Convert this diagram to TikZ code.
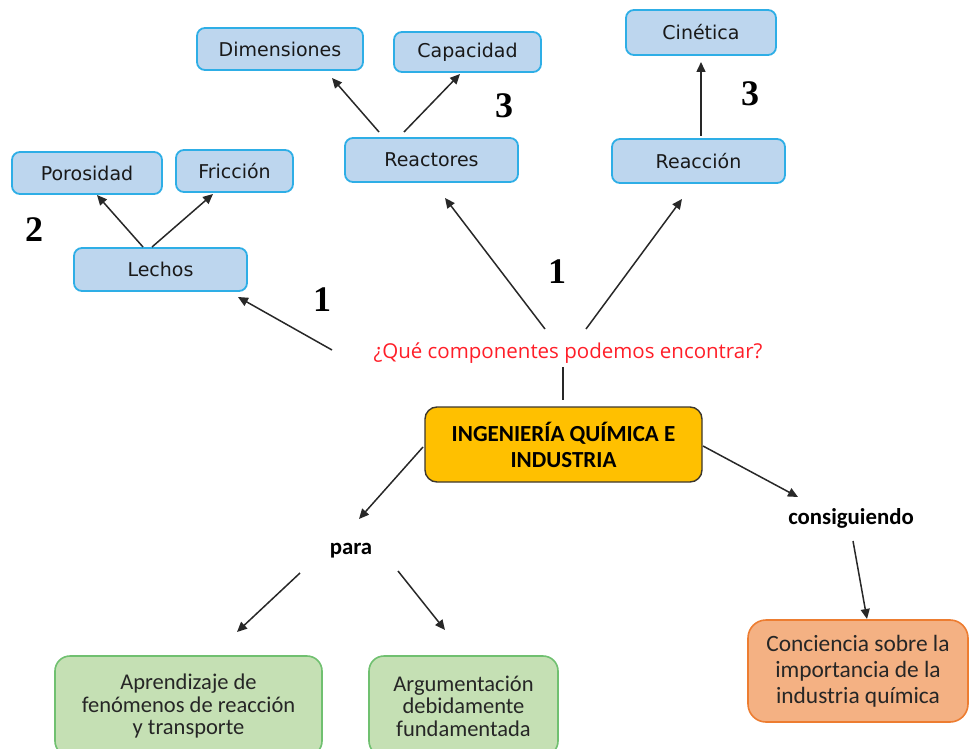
\documentclass[tikz,border=0pt]{standalone}
\usepackage{fontspec}
\setmainfont{Carlito}
\newfontfamily\boxfont{DejaVu Sans}
\newfontfamily\calfont{Carlito}
\newfontfamily\qfont{Open Sans}
\newfontfamily\numfont{Liberation Serif}
\usetikzlibrary{arrows.meta}
\definecolor{bluefill}{RGB}{189,214,238}
\definecolor{blueline}{RGB}{46,174,230}
\definecolor{mainfill}{RGB}{255,192,0}
\definecolor{mainline}{RGB}{60,55,45}
\definecolor{greenfill}{RGB}{197,224,180}
\definecolor{greenline}{RGB}{112,192,112}
\definecolor{orangefill}{RGB}{244,177,131}
\definecolor{orangeline}{RGB}{237,125,49}
\definecolor{arrowgray}{RGB}{40,40,40}
\definecolor{qred}{RGB}{255,30,40}
\tikzset{
  bluebox/.style={draw=blueline, line width=1.8pt, fill=bluefill, rounded corners=8pt,
    inner sep=0pt, text=black!90, font=\boxfont\fontsize{19}{22}\selectfont},
  mainbox/.style={draw=mainline, line width=1.4pt, fill=mainfill, rounded corners=12pt,
    inner sep=0pt, align=center, font=\calfont\bfseries\fontsize{23}{26}\selectfont},
  greenbox/.style={draw=greenline, line width=1.6pt, fill=greenfill, rounded corners=15pt,
    inner sep=0pt, align=center, text=black!85, font=\calfont\fontsize{22.5}{22.5}\selectfont},
  orangebox/.style={draw=orangeline, line width=1.6pt, fill=orangefill, rounded corners=18pt,
    inner sep=0pt, align=center, text=black!85, font=\calfont\fontsize{23.4}{26}\selectfont},
  linklabel/.style={inner sep=0pt, font=\calfont\bfseries\fontsize{22.8}{24}\selectfont},
  numlabel/.style={inner sep=0pt, font=\numfont\bfseries\fontsize{36}{40}\selectfont},
  arr/.style={draw=arrowgray, line width=1.5pt, -{Triangle[length=10pt,width=9pt]}},
  plain/.style={draw=arrowgray, line width=1.5pt}
}
\begin{document}
\begin{tikzpicture}[x=1pt,y=-1pt]
\useasboundingbox (0,0) rectangle (975,749);
\clip (0,0) rectangle (975,749);
% blue boxes
\node[bluebox, minimum width=166pt, minimum height=42pt] (dim) at (280,49) {Dimensiones};
\node[bluebox, minimum width=147pt, minimum height=40pt] (cap) at (467.5,52) {Capacidad};
\node[bluebox, minimum width=150pt, minimum height=45pt] (cin) at (701,32.5) {Cinética};
\node[bluebox, minimum width=173pt, minimum height=44pt] (rea) at (431.5,160) {Reactores};
\node[bluebox, minimum width=173pt, minimum height=44pt] (rcc) at (698.5,161) {Reacción};
\node[bluebox, minimum width=150pt, minimum height=42pt] (por) at (87,173) {Porosidad};
\node[bluebox, minimum width=117pt, minimum height=42pt] (fri) at (234.5,171) {Fricción};
\node[bluebox, minimum width=173pt, minimum height=43pt] (lec) at (160.5,269.5) {Lechos};
% question
\node[inner sep=0pt, text=qred, font=\qfont\fontsize{20.5}{24}\selectfont] (q) at (568,353) {¿Qué componentes podemos encontrar?};
% main
\node[mainbox, minimum width=277pt, minimum height=75pt] (main) at (563.5,444.5) {INGENIERÍA QUÍMICA E\\INDUSTRIA};
% link words
\node[linklabel] (para) at (351,551) {para};
\node[linklabel] (cons) at (851,518) {consiguiendo};
% bottom boxes
\node[greenbox, minimum width=267pt, minimum height=100pt] (apr) at (188.5,706) {Aprendizaje de\\fenómenos de reacción\\y transporte};
\node[greenbox, minimum width=189pt, minimum height=100pt] (arg) at (463.5,706) {Argumentación\\debidamente\\fundamentada};
\node[orangebox, minimum width=220pt, minimum height=102pt] (con) at (858,671) {Conciencia sobre la\\importancia de la\\industria química};
% number labels
\node[numlabel] (n1a) at (322,300) {1};
\node[numlabel] (n1b) at (557,272) {1};
\node[numlabel] (n2) at (34,230) {2};
\node[numlabel] (n3a) at (504,106) {3};
\node[numlabel] (n3b) at (750,94) {3};
% connector end points
\coordinate (q1) at (332,350);   \coordinate (lec1) at (238,297);
\coordinate (q2) at (545,329);   \coordinate (rea1) at (445,198);
\coordinate (q3) at (586,329);   \coordinate (rcc1) at (682,199);
\coordinate (q4) at (563,367);   \coordinate (main1) at (563,400);
\coordinate (rea2) at (379,132); \coordinate (dim1) at (332,78);
\coordinate (rea3) at (404,132); \coordinate (cap1) at (460,74);
\coordinate (lec2) at (143,247); \coordinate (por1) at (97,195);
\coordinate (lec3) at (152,247); \coordinate (fri1) at (213,194);
\coordinate (rcc2) at (701,136); \coordinate (cin1) at (701,62);
\coordinate (main2) at (423,447); \coordinate (para1) at (359,519);
\coordinate (main3) at (703,446); \coordinate (cons1) at (798,497);
\coordinate (cons2) at (853,541); \coordinate (con1) at (867,619);
\coordinate (para2) at (300,573); \coordinate (apr1) at (237,632);
\coordinate (para3) at (398,571); \coordinate (arg1) at (445,630);
% connectors
\draw[arr] (q1) -- (lec1);
\draw[arr] (q2) -- (rea1);
\draw[arr] (q3) -- (rcc1);
\draw[plain] (q4) -- (main1);
\draw[arr] (rea2) -- (dim1);
\draw[arr] (rea3) -- (cap1);
\draw[arr] (lec2) -- (por1);
\draw[arr] (lec3) -- (fri1);
\draw[arr] (rcc2) -- (cin1);
\draw[arr] (main2) -- (para1);
\draw[arr] (main3) -- (cons1);
\draw[arr] (cons2) -- (con1);
\draw[arr] (para2) -- (apr1);
\draw[arr] (para3) -- (arg1);
\end{tikzpicture}
\end{document}
